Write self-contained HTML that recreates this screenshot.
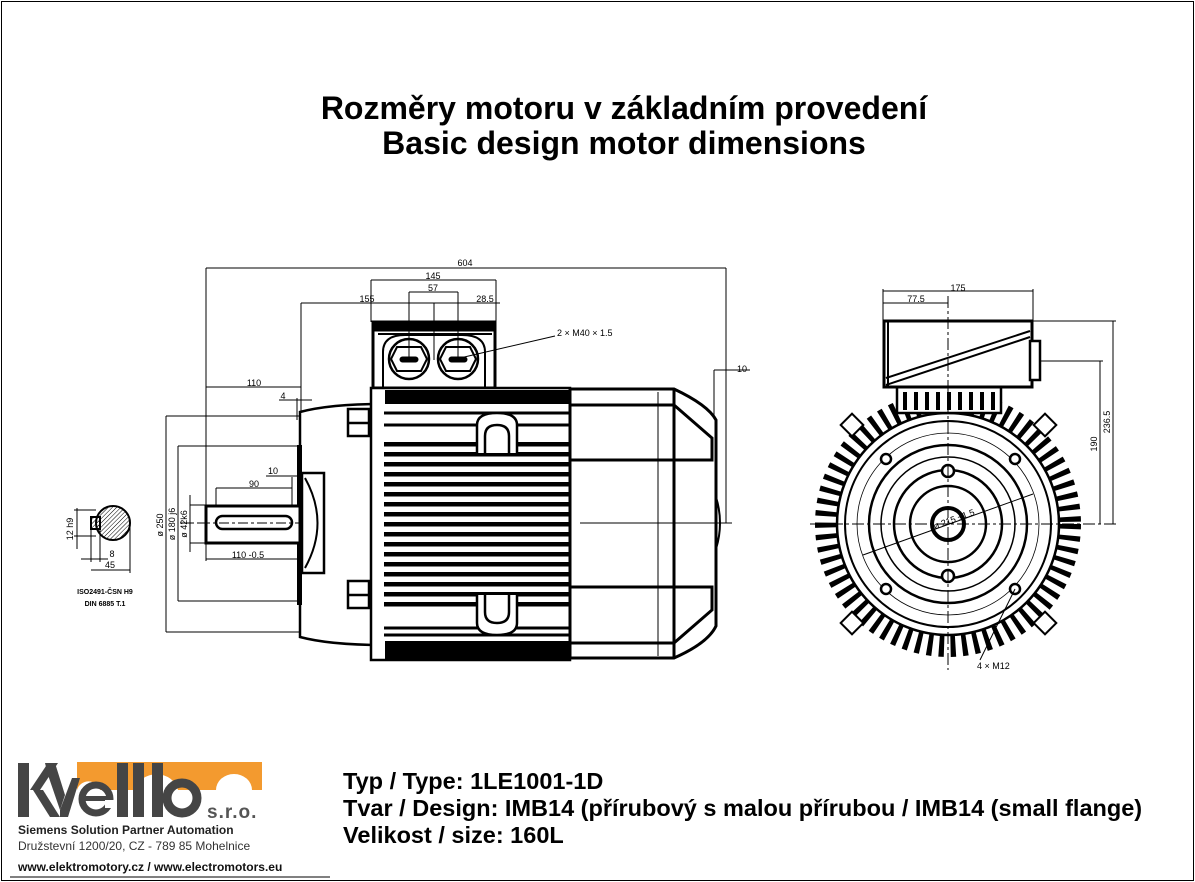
<!DOCTYPE html>
<html><head><meta charset="utf-8"><style>
html,body{margin:0;padding:0;background:#fff;}
svg{display:block;}
text{font-family:"Liberation Sans",Arial,sans-serif;}
</style></head><body>
<svg width="1195" height="882" viewBox="0 0 1195 882" xmlns="http://www.w3.org/2000/svg">
<defs>
<pattern id="fins" x="0" y="452" width="10" height="10" patternUnits="userSpaceOnUse"><rect x="0" y="0" width="10" height="4.5" fill="#000"/></pattern>
<pattern id="hatch" width="3" height="3" patternUnits="userSpaceOnUse" patternTransform="rotate(45)"><line x1="0" y1="0" x2="0" y2="3" stroke="#000" stroke-width="1"/></pattern>
</defs>
<rect x="1.5" y="1.5" width="1192" height="879" fill="none" stroke="#000" stroke-width="1"/>

<text x="624" y="119" font-size="32" font-weight="bold" text-anchor="middle">Rozměry motoru v základním provedení</text>
<text x="624" y="154" font-size="32" font-weight="bold" text-anchor="middle">Basic design motor dimensions</text>

<!-- ====== SIDE VIEW ====== -->
<g stroke="#000" fill="none" stroke-width="1">
 <line x1="206" y1="268" x2="726" y2="268"/><line x1="206" y1="268" x2="206" y2="510"/><line x1="726" y1="268" x2="726" y2="523"/>
 <line x1="371" y1="280" x2="496" y2="280"/><line x1="371" y1="280" x2="371" y2="322"/><line x1="496" y1="280" x2="496" y2="322"/>
 <line x1="409" y1="292" x2="458" y2="292"/><line x1="409" y1="292" x2="409" y2="360"/><line x1="458" y1="292" x2="458" y2="360"/>
 <line x1="301" y1="303" x2="500" y2="303"/><line x1="301" y1="303" x2="301" y2="470"/><line x1="434" y1="303" x2="434" y2="360"/>
 <line x1="206" y1="387" x2="301" y2="387"/>
 <line x1="279" y1="400" x2="312" y2="400"/><line x1="297" y1="398" x2="297" y2="420"/>
 <line x1="460" y1="358" x2="555" y2="336"/>
 <line x1="714" y1="370" x2="750" y2="370"/><line x1="714" y1="370" x2="714" y2="522"/>
 <line x1="166" y1="416" x2="300" y2="416"/><line x1="166" y1="416" x2="166" y2="632"/><line x1="166" y1="632" x2="300" y2="632"/>
 <line x1="178" y1="446" x2="298" y2="446"/><line x1="178" y1="446" x2="178" y2="601"/><line x1="178" y1="601" x2="298" y2="601"/>
 <line x1="190" y1="505" x2="206" y2="505"/><line x1="190" y1="495" x2="190" y2="552"/><line x1="190" y1="543" x2="206" y2="543"/>
 <line x1="216" y1="488" x2="292" y2="488"/><line x1="216" y1="488" x2="216" y2="515"/><line x1="292" y1="477" x2="292" y2="515"/>
 <line x1="266" y1="476" x2="300" y2="476"/>
 <line x1="206" y1="559" x2="300" y2="559"/><line x1="206" y1="543" x2="206" y2="561"/><line x1="300" y1="545" x2="300" y2="561"/>
 <line x1="700" y1="495" x2="700" y2="552"/><line x1="700" y1="495" x2="712" y2="495"/><line x1="700" y1="543" x2="712" y2="543"/>
 <line x1="180" y1="523" x2="732" y2="523" stroke-dasharray="14,3,3,3"/>
</g>
<g font-size="9" fill="#000">
 <text x="465" y="266" text-anchor="middle">604</text>
 <text x="433" y="279" text-anchor="middle">145</text>
 <text x="433" y="291" text-anchor="middle">57</text>
 <text x="367" y="302" text-anchor="middle">155</text>
 <text x="485" y="302" text-anchor="middle">28.5</text>
 <text x="557" y="336">2 × M40 × 1.5</text>
 <text x="254" y="386" text-anchor="middle">110</text>
 <text x="283" y="399" text-anchor="middle">4</text>
 <text x="273" y="474" text-anchor="middle">10</text>
 <text x="254" y="487" text-anchor="middle">90</text>
 <text x="248" y="558" text-anchor="middle">110 -0.5</text>
 <text x="742" y="372" text-anchor="middle">10</text>
 <text transform="translate(163,525) rotate(-90)" text-anchor="middle">ø 250</text>
 <text transform="translate(175,524) rotate(-90)" text-anchor="middle">ø 180 j6</text>
 <text transform="translate(187,524) rotate(-90)" text-anchor="middle">ø 42k6</text>
 <text transform="translate(655,528) rotate(-90)" text-anchor="middle">ø 34</text>
 <text transform="translate(697,528) rotate(-90)" text-anchor="middle">ø 45</text>
</g>
<g stroke="#000" fill="none">
 <rect x="373" y="322" width="122" height="66" stroke-width="3"/>
 <rect x="373" y="322" width="122" height="9" fill="#000"/>
 <line x1="378" y1="334" x2="492" y2="334" stroke-width="2"/>
 <path d="M383 388 V352 Q383 335 405 335 H462 Q485 335 485 352 V388" stroke-width="2"/>
 <circle cx="409" cy="359" r="20" stroke-width="2.5"/>
 <circle cx="458" cy="359" r="20" stroke-width="2.5"/>
 <polygon points="397,347 421,347 427,359 421,371 397,371 391,359" stroke-width="2"/>
 <polygon points="446,347 470,347 476,359 470,371 446,371 440,359" stroke-width="2"/>
 <rect x="400" y="357" width="18" height="5" rx="2.5" fill="#000"/>
 <rect x="449" y="357" width="18" height="5" rx="2.5" fill="#000"/>
</g>
<g stroke="#000" fill="none" stroke-width="2.5">
 <path d="M300 412 Q330 404 383 404 L383 645 Q330 645 300 637 Z" fill="#fff"/>
 <rect x="297" y="445" width="5" height="160" fill="#000" stroke="none"/>
 <rect x="302" y="473" width="22" height="100" fill="#fff"/>
 <path d="M305 478 Q330 523 305 568" stroke-width="2"/>
 <rect x="348" y="409" width="38" height="27" fill="#fff"/>
 <line x1="348" y1="423" x2="386" y2="423"/><line x1="369" y1="409" x2="369" y2="436"/>
 <rect x="348" y="581" width="38" height="27" fill="#fff"/>
 <line x1="348" y1="595" x2="386" y2="595"/><line x1="369" y1="581" x2="369" y2="608"/>
</g>
<rect x="206" y="506" width="94" height="37" fill="#fff" stroke="#000" stroke-width="3"/>
<rect x="216" y="516" width="76" height="13" rx="6.5" fill="none" stroke="#000" stroke-width="2.5"/>
<line x1="200" y1="523" x2="300" y2="523" stroke="#000" stroke-dasharray="10,3,3,3"/>
<rect x="371" y="388" width="199" height="272" fill="#fff" stroke="#000" stroke-width="2.5"/>
<rect x="385" y="390" width="185" height="14" fill="#000"/>
<rect x="385" y="641" width="185" height="19" fill="#000"/>
<rect x="384" y="440" width="185" height="172" fill="url(#fins)"/>
<g stroke="#000" stroke-width="3"><line x1="384" y1="413" x2="569" y2="413"/><line x1="384" y1="425" x2="569" y2="425"/><line x1="384" y1="628" x2="569" y2="628"/><line x1="384" y1="635" x2="569" y2="635"/></g>
<g stroke="#000" stroke-width="2.5" fill="#fff">
 <path d="M477 453 V425 Q477 413 497 413 Q517 413 517 425 V453"/>
 <path d="M485 453 V436 Q485 425 497 425 Q509 425 509 436 V453"/>
 <path d="M477 595 V623 Q477 635 497 635 Q517 635 517 623 V595"/>
 <path d="M485 595 V612 Q485 623 497 623 Q509 623 509 612 V595"/>
</g>
<g stroke="#000" stroke-width="3" fill="none">
 <path d="M570 389 H674 Q708 405 716 420 V626 Q708 643 674 658 H570 Z" fill="#fff"/>
 <line x1="674" y1="389" x2="674" y2="658"/>
 <path d="M570 405 H674 L712 438 V460 H570"/>
 <path d="M570 587 H712 V610 L674 643 H570"/>
 <path d="M716 497 Q724 523 716 549" stroke-width="2"/>
</g>
<line x1="658" y1="392" x2="658" y2="656" stroke="#000" stroke-width="1"/>
<line x1="580" y1="523" x2="732" y2="523" stroke="#000" stroke-width="1"/>

<circle cx="113" cy="523" r="17" fill="url(#hatch)" stroke="#000" stroke-width="2"/>
<rect x="91" y="517" width="9" height="12" fill="url(#hatch)" stroke="#000" stroke-width="2"/>
<g stroke="#000" stroke-width="1">
 <line x1="74" y1="510" x2="96" y2="510"/><line x1="74" y1="536" x2="96" y2="536"/><line x1="77" y1="508" x2="77" y2="549"/>
 <line x1="81" y1="559" x2="108" y2="559"/><line x1="91" y1="529" x2="91" y2="562"/><line x1="100" y1="529" x2="100" y2="562"/>
 <line x1="91" y1="570" x2="130" y2="570"/><line x1="130" y1="525" x2="130" y2="573"/>
</g>
<g font-size="9"><text transform="translate(73,529) rotate(-90)" text-anchor="middle">12 h9</text>
<text x="112" y="557" text-anchor="middle">8</text><text x="110" y="568" text-anchor="middle">45</text>
<text x="105" y="594" text-anchor="middle" font-weight="bold" font-size="7">ISO2491-ČSN H9</text>
<text x="105" y="606" text-anchor="middle" font-weight="bold" font-size="7">DIN 6885 T.1</text></g>

<!-- ====== END VIEW ====== -->
<g stroke="#000" fill="none">
 <circle cx="948" cy="524" r="122" stroke-width="22" stroke-dasharray="5,6.5"/>
 <circle cx="948" cy="524" r="111" stroke-width="2.5" fill="#fff"/>
 <rect x="897" y="385" width="104" height="28" fill="#fff" stroke-width="2.5"/>
 <g stroke-width="4"><line x1="905" y1="392" x2="905" y2="410"/><line x1="916" y1="392" x2="916" y2="410"/><line x1="927" y1="392" x2="927" y2="410"/><line x1="938" y1="392" x2="938" y2="410"/><line x1="949" y1="392" x2="949" y2="410"/><line x1="960" y1="392" x2="960" y2="410"/><line x1="971" y1="392" x2="971" y2="410"/><line x1="982" y1="392" x2="982" y2="410"/><line x1="993" y1="392" x2="993" y2="410"/></g>
 <circle cx="948" cy="524" r="103" stroke-width="2"/>
 <circle cx="948" cy="524" r="91" stroke-width="0.8"/>
 <circle cx="948" cy="524" r="79" stroke-width="2.5"/>
 <circle cx="948" cy="524" r="67" stroke-width="1.5"/>
 <circle cx="948" cy="524" r="54" stroke-width="2.5"/>
 <circle cx="948" cy="524" r="38" stroke-width="2.5"/>
 <circle cx="948" cy="524" r="16" stroke-width="4"/>
 <g stroke-width="2.5" fill="#fff">
  <circle cx="886" cy="459" r="5"/><circle cx="1015" cy="459" r="5"/><circle cx="886" cy="589" r="5"/><circle cx="1015" cy="589" r="5"/>
  <circle cx="948" cy="471" r="6"/><circle cx="948" cy="576" r="6"/>
 </g>
 <g stroke-width="2" fill="#fff">
  <rect x="-8" y="-8" width="16" height="16" transform="translate(852,425) rotate(45)"/>
  <rect x="-8" y="-8" width="16" height="16" transform="translate(1045,425) rotate(45)"/>
  <rect x="-8" y="-8" width="16" height="16" transform="translate(852,623) rotate(45)"/>
  <rect x="-8" y="-8" width="16" height="16" transform="translate(1045,623) rotate(45)"/>
 </g>
 <rect x="884" y="321" width="148" height="66" fill="#fff" stroke-width="3"/>
 <line x1="888" y1="321" x2="888" y2="387" stroke-width="2"/>
 <line x1="886" y1="378" x2="1030" y2="331" stroke-width="2"/><line x1="886" y1="385" x2="1030" y2="337" stroke-width="2"/>
 <rect x="1030" y="341" width="10" height="39" fill="#fff" stroke-width="2.5"/>
 <g stroke-width="1">
  <line x1="810" y1="524" x2="1118" y2="524" stroke-dasharray="12,3,3,3"/>
  <line x1="948" y1="296" x2="948" y2="670" stroke-dasharray="12,3,3,3"/>
  <line x1="883" y1="291" x2="1033" y2="291"/><line x1="883" y1="289" x2="883" y2="321"/><line x1="1033" y1="289" x2="1033" y2="321"/>
  <line x1="883" y1="303" x2="948" y2="303"/>
  <line x1="1033" y1="321" x2="1116" y2="321"/><line x1="1113" y1="321" x2="1113" y2="524"/>
  <line x1="1040" y1="361" x2="1103" y2="361"/><line x1="1100" y1="361" x2="1100" y2="524"/>
  <line x1="863" y1="555" x2="1033" y2="494"/>
  <line x1="1015" y1="589" x2="980" y2="660"/>
 </g>
</g>
<g font-size="9">
 <text x="958" y="291" text-anchor="middle">175</text>
 <text x="916" y="302" text-anchor="middle">77.5</text>
 <text transform="translate(1110,422) rotate(-90)" text-anchor="middle">236.5</text>
 <text transform="translate(1097,444) rotate(-90)" text-anchor="middle">190</text>
 <text transform="translate(955,522) rotate(-20)" text-anchor="middle">ø 215 ±1.5</text>
 <text x="977" y="669">4 × M12</text>
</g>

<!-- ====== LOGO ====== -->
<g>
 <path d="M77 762 H262 V790 H252 A18 16 0 0 0 216 790 H178 A22 20 0 0 0 135 790 H100 A12 12 0 0 0 77 790 Z" fill="#f39a2f"/>
 <rect x="18" y="763" width="11" height="54" fill="#454545"/>
 <polygon points="30,790 48,763 58,763 40,790" fill="#454545"/>
 <polygon points="33,790 50,817 60,817 43,790" fill="#454545"/>
 <polygon points="45,763 55,763 65,795 60,810 48,775" fill="#454545"/>
 <polygon points="60,810 72,778 80,778 68,817 60,817" fill="#454545"/>
 <circle cx="96" cy="799" r="14" fill="none" stroke="#454545" stroke-width="7"/>
 <rect x="82" y="796" width="28" height="5" fill="#454545"/>
 <rect x="105" y="800" width="10" height="8" fill="#fff"/>
 <rect x="117" y="763" width="11" height="54" fill="#454545"/>
 <rect x="133" y="763" width="11" height="54" fill="#454545"/>
 <rect x="152" y="763" width="11" height="54" fill="#454545"/>
 <circle cx="182" cy="798" r="15" fill="none" stroke="#454545" stroke-width="9"/>
 <text x="207" y="818" font-size="19" fill="#555" font-weight="bold" letter-spacing="1">s.r.o.</text>
 <text x="18" y="834" font-size="12" font-weight="bold" fill="#222">Siemens Solution Partner Automation</text>
 <text x="18" y="850" font-size="12" fill="#333">Družstevní 1200/20, CZ - 789 85 Mohelnice</text>
 <text x="18" y="871" font-size="12" font-weight="bold" fill="#111">www.elektromotory.cz / www.electromotors.eu</text>
 <line x1="10" y1="877" x2="330" y2="877" stroke="#000" stroke-width="1"/>
</g>

<g font-size="23.5" font-weight="bold">
 <text x="343" y="789">Typ / Type: 1LE1001-1D</text>
 <text x="343" y="816">Tvar / Design: IMB14 (přírubový s malou přírubou / IMB14 (small flange)</text>
 <text x="343" y="843">Velikost / size: 160L</text>
</g>
</svg>
</body></html>
